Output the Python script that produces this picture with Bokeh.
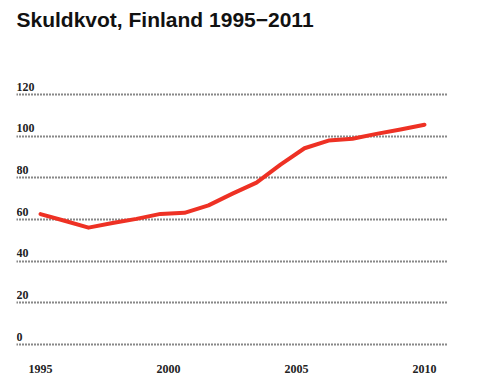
from bokeh.plotting import figure
from bokeh.models import Range1d, FixedTicker, ColumnDataSource, Title
from bokeh.embed import file_html
from bokeh.resources import INLINE
from bokeh.core.properties import value

# ---- data ----
years = list(range(1995, 2012))
debt_ratio = [62.6, 59.4, 56.1, 58.3, 60.3, 62.7, 63.2, 66.8, 72.4, 77.7,
              86.3, 94.2, 97.9, 98.8, 101.1, 103.2, 105.5]
y_ticks = [0, 20, 40, 60, 80, 100, 120]
x_tick_labels = ["1995", "2000", "2005", "2010"]
title_text = "Skuldkvot, Finland 1995\u22122011"

# x tick labels are spread evenly over the data span, as in the original
span_start, span_end = years[0], years[-1]
lab_first, lab_last = int(x_tick_labels[0]), int(x_tick_labels[-1])
x_tick_pos = [span_start + (int(l) - lab_first) * (span_end - span_start) / (lab_last - lab_first)
              for l in x_tick_labels]

FRAME_H = 313
PX_PER_UNIT = 2.0833
y_lo = -1.92
y_hi = y_lo + FRAME_H / PX_PER_UNIT

p = figure(frame_width=432, frame_height=FRAME_H, output_backend="svg", toolbar_location=None,
           x_range=Range1d(1994, 2012), y_range=Range1d(y_lo, y_hi),
           min_border_left=16, min_border_right=16, min_border_top=0, min_border_bottom=30)

p.title = Title(text=title_text, align="left",
                text_font="Liberation Sans",
                text_font_size="21px", text_font_style="bold", text_color="#111111",
                offset=0, standoff=10)

p.outline_line_color = None
p.background_fill_color = "white"
p.border_fill_color = "white"
p.xgrid.visible = False
p.ygrid.ticker = FixedTicker(ticks=y_ticks)
p.ygrid.grid_line_color = "#111111"
p.ygrid.grid_line_dash = "1 2"
p.ygrid.grid_line_width = 2
p.yaxis.visible = False

xa = p.xaxis[0]
xa.ticker = FixedTicker(ticks=x_tick_pos)
xa.major_label_overrides = {pos: lab for pos, lab in zip(x_tick_pos, x_tick_labels)}
xa.axis_line_color = None
xa.major_tick_line_color = None
xa.minor_tick_line_color = None
xa.major_label_standoff = 10
xa.major_label_text_font = "Liberation Serif"
xa.major_label_text_font_style = "bold"
xa.major_label_text_font_size = "12px"
xa.major_label_text_color = "#222222"

src = ColumnDataSource(dict(x=[p.x_range.start] * len(y_ticks), y=y_ticks,
                            t=[str(v) for v in y_ticks]))
p.text(x="x", y="y", text="t", source=src, text_baseline="bottom", text_align="left",
       y_offset=-4, text_font=value("Liberation Serif"), text_font_style="bold",
       text_font_size="12px", text_color="#222222")

p.line(years, debt_ratio, line_color="#ee3124", line_width=4, line_join="round", line_cap="round")

open("out.html", "w").write(file_html(p, INLINE))
